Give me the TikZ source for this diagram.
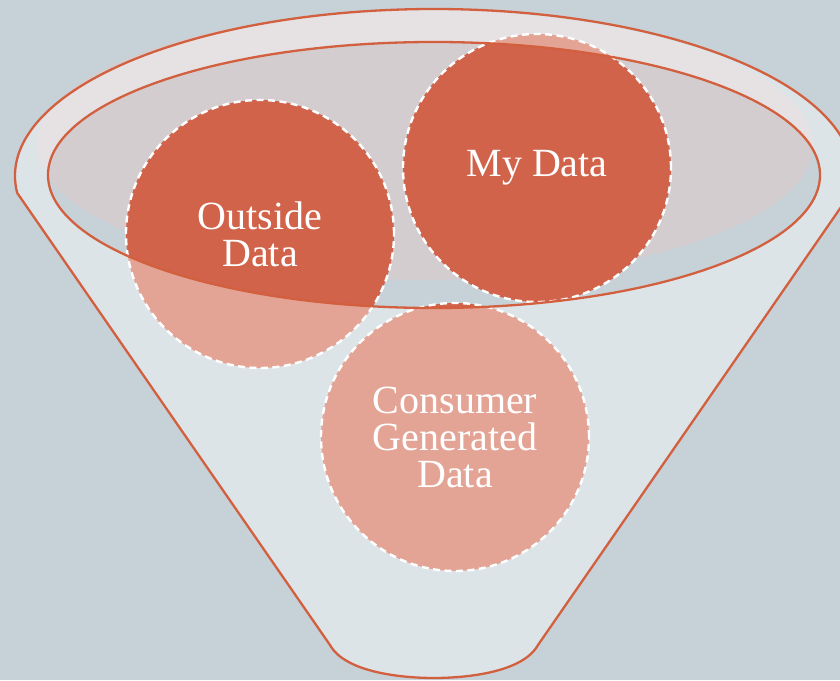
\documentclass[tikz,border=0pt]{standalone}
\usepackage{fontspec}
\setmainfont{Liberation Serif}
\definecolor{bgc}{HTML}{C6D1D8}
\definecolor{innerc}{HTML}{D4CDD0}
\definecolor{orangec}{HTML}{D1634A}
\definecolor{linec}{HTML}{D2603F}
\newcommand\funnelcontour{(434,504) ++(185.8:419 and 167) arc[start angle=185.8, end angle=-5.8, x radius=419, y radius=167] -- (538,35) .. controls (523,8) and (468,2) .. (434,2) .. controls (400,2) and (345,8) .. (330,35) -- cycle}
\tikzset{
  bubble/.style={circle, fill=orangec, draw=white, line width=2.4pt, dash pattern=on 7pt off 4.5pt, minimum size=268pt, inner sep=0pt, align=center, text=white, font=\fontsize{40}{37}\selectfont},
  funline/.style={draw=linec, line width=2.3pt}
}
\begin{document}
\begin{tikzpicture}[x=1pt,y=1pt]
\useasboundingbox (0,0) rectangle (840,680);
\fill[bgc] (0,0) rectangle (840,680);
\fill[innerc] (425,535) ellipse [x radius=388, y radius=135];
\node[bubble] (outside) at (260,446) {Outside\\Data};
\node[bubble] (mydata) at (537,512) {My Data};
\node[bubble] (consumer) at (455,243) {Consumer\\Generated\\Data};
\fill[white, fill opacity=0.42, even odd rule] \funnelcontour (434,505) ellipse [x radius=386, y radius=133];
\path[funline] \funnelcontour;
\draw[funline] (434,505) ellipse [x radius=386, y radius=133];
\end{tikzpicture}
\end{document}
